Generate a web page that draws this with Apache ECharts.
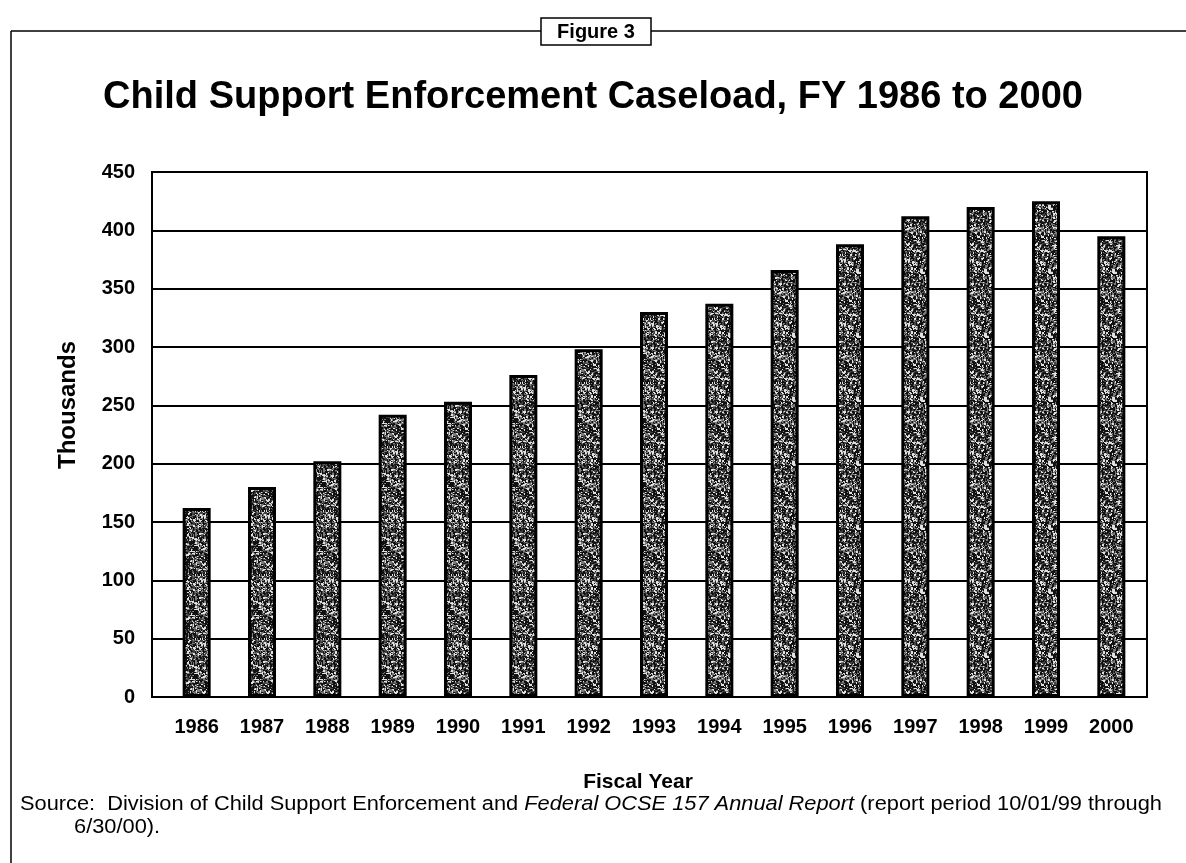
<!DOCTYPE html>
<html>
<head>
<meta charset="utf-8">
<script src="https://cdn.jsdelivr.net/npm/echarts@6/dist/echarts.min.js"></script>
<style>
  html, body { margin: 0; padding: 0; background: #fff; }
  #chart { width: 1186px; height: 863px; }
</style>
</head>
<body>
<div id="chart"></div>
<script>
// Fiscal years and caseload (thousands)
const years = ['1986','1987','1988','1989','1990','1991','1992','1993','1994','1995','1996','1997','1998','1999','2000'];
const caseload = [162, 180, 202, 242, 253, 276, 298, 330, 337, 366, 388, 412, 420, 425, 395];
const yTicks = { min: 0, max: 450, step: 50 };

const titleText = 'Child Support Enforcement Caseload, FY 1986 to 2000';
const figureLabel = 'Figure 3';
const yAxisTitle = 'Thousands';
const xAxisTitle = 'Fiscal Year';
const sourceParts = ['Source:  Division of Child Support Enforcement and ', 'Federal OCSE 157 Annual Report', ' (report period 10/01/99 through'];
const sourceTail = '6/30/00).';

const FONT = '"Liberation Sans", Arial, Helvetica, sans-serif';

// Speckled halftone fill for the bars (seeded so it draws the same each time)
function makeSpeckle() {
  const c = document.createElement('canvas');
  c.width = 64; c.height = 64;
  const g = c.getContext('2d');
  g.fillStyle = '#7a7a7a';
  g.fillRect(0, 0, 64, 64);
  let s = 12345;
  const rnd = () => { s = (s * 1103515245 + 12345) & 0x7fffffff; return s / 0x7fffffff; };
  for (let i = 0; i < 2800; i++) {
    const x = Math.floor(rnd() * 64), y = Math.floor(rnd() * 64);
    const v = rnd();
    g.fillStyle = v < 0.55 ? '#111' : (v < 0.75 ? '#444' : '#e0e0e0');
    g.fillRect(x, y, 1 + Math.floor(rnd() * 2), 1 + Math.floor(rnd() * 2));
  }
  return c;
}
const speckle = makeSpeckle();

// Fit the source note to the width of the page
const SRC_SIZE = 20;
const mctx = document.createElement('canvas').getContext('2d');
mctx.font = SRC_SIZE + 'px "Liberation Sans"';
let srcW = mctx.measureText(sourceParts[0]).width + mctx.measureText(sourceParts[2]).width;
mctx.font = 'italic ' + SRC_SIZE + 'px "Liberation Sans"';
srcW += mctx.measureText(sourceParts[1]).width;
const srcScale = 1142 / srcW;

const chart = echarts.init(document.getElementById('chart'), null, { renderer: 'canvas' });

chart.setOption({
  animation: false,
  backgroundColor: '#fff',
  textStyle: { fontFamily: FONT, color: '#000' },
  title: {
    text: titleText,
    left: 'center',
    top: 74,
    textStyle: { fontFamily: FONT, fontSize: 38, fontWeight: 'bold', color: '#000' }
  },
  grid: [
    // frame with value gridlines
    { left: 152, right: 39, top: 172, height: 525, show: true, borderColor: '#000', borderWidth: 2, backgroundColor: 'transparent' },
    // bar band, offset slightly to the right inside the frame
    { left: 164, width: 980, top: 172, height: 525 }
  ],
  xAxis: [
    { type: 'category', gridIndex: 0, data: years, show: false },
    {
      type: 'category', gridIndex: 1, data: years,
      axisLine: { show: false }, axisTick: { show: false },
      axisLabel: { margin: 20, fontFamily: FONT, fontSize: 20, fontWeight: 'bold', color: '#000' }
    }
  ],
  yAxis: [
    {
      type: 'value', gridIndex: 0, min: yTicks.min, max: yTicks.max, interval: yTicks.step,
      axisLine: { show: true, lineStyle: { color: '#000', width: 2 } },
      axisTick: { show: false },
      axisLabel: { margin: 17, fontFamily: FONT, fontSize: 20, fontWeight: 'bold', color: '#000' },
      splitLine: { show: true, lineStyle: { color: '#000', width: 2 } }
    },
    { type: 'value', gridIndex: 1, min: yTicks.min, max: yTicks.max, interval: yTicks.step, show: false, splitLine: { show: false } }
  ],
  series: [{
    type: 'bar',
    xAxisIndex: 1, yAxisIndex: 1,
    data: caseload,
    barWidth: 28,
    itemStyle: {
      color: { image: speckle, repeat: 'repeat' },
      borderColor: '#000',
      borderWidth: 3
    }
  }],
  graphic: [
    // outer figure frame: top rule and left rule
    { type: 'line', shape: { x1: 11, y1: 31, x2: 541, y2: 31 }, style: { stroke: '#000', lineWidth: 1.5 } },
    { type: 'line', shape: { x1: 651, y1: 31, x2: 1186, y2: 31 }, style: { stroke: '#000', lineWidth: 1.5 } },
    { type: 'line', shape: { x1: 11, y1: 31, x2: 11, y2: 863 }, style: { stroke: '#000', lineWidth: 1.5 } },
    // figure number box
    { type: 'rect', shape: { x: 541, y: 18, width: 110, height: 27 }, style: { fill: '#fff', stroke: '#000', lineWidth: 1.5 } },
    { type: 'text', x: 596, y: 32, style: { text: figureLabel, fontFamily: FONT, fontSize: 20, fontWeight: 'bold', fill: '#000', textAlign: 'center', textVerticalAlign: 'middle' } },
    // axis titles
    { type: 'text', x: 68, y: 405, rotation: Math.PI / 2, style: { text: yAxisTitle, fontFamily: FONT, fontSize: 24, fontWeight: 'bold', fill: '#000', textAlign: 'center', textVerticalAlign: 'middle' } },
    { type: 'text', x: 638, y: 782, style: { text: xAxisTitle, fontFamily: FONT, fontSize: 21, fontWeight: 'bold', fill: '#000', textAlign: 'center', textVerticalAlign: 'middle' } },
    // source note
    {
      type: 'group', x: 20, y: 0, scaleX: srcScale,
      children: [
        {
          type: 'text', x: 0, y: 804,
          style: {
            text: '{n|' + sourceParts[0] + '}{i|' + sourceParts[1] + '}{n|' + sourceParts[2] + '}',
            fontFamily: FONT, fontSize: SRC_SIZE, fill: '#000', textVerticalAlign: 'middle',
            rich: {
              n: { fontFamily: FONT, fontSize: SRC_SIZE, fill: '#000' },
              i: { fontFamily: FONT, fontSize: SRC_SIZE, fontStyle: 'italic', fill: '#000' }
            }
          }
        },
        { type: 'text', x: 54 / srcScale, y: 827, style: { text: sourceTail, fontFamily: FONT, fontSize: SRC_SIZE, fill: '#000', textVerticalAlign: 'middle' } }
      ]
    }
  ]
});
</script>
</body>
</html>
